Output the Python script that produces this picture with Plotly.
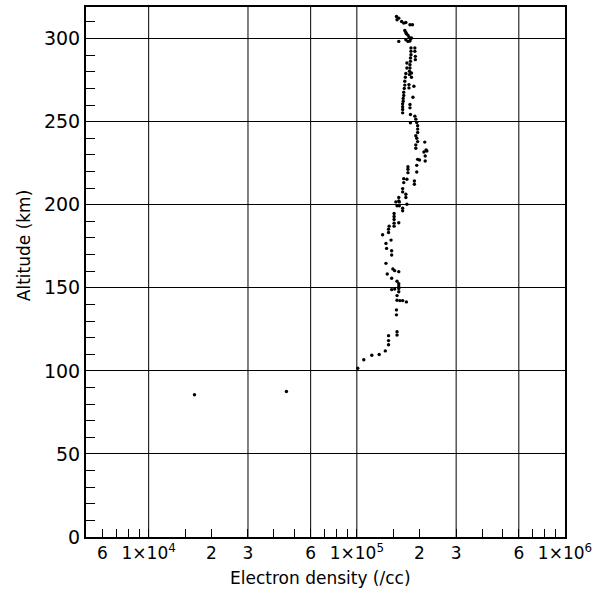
import plotly.graph_objects as go
import math

# ---- data ----
ALTITUDE_KM = [
    85.6, 87.6, 101.6, 106.7, 109.4, 109.8, 112.0, 115.7, 118.2, 121.2, 121.6, 123.6,
    133.7, 136.7, 142.5, 142.3, 142.3, 141.5, 145.3, 147.6, 149.5, 151.0, 152.4, 148.9,
    149.2, 153.9, 155.7, 158.3, 161.3, 160.3, 159.7, 164.7, 169.7, 172.3, 173.7, 176.7,
    178.7, 181.9, 183.3, 185.3, 187.1, 187.1, 188.9, 189.1, 191.1, 192.9, 194.7, 196.3,
    197.9, 199.3, 199.3, 200.3, 201.7, 201.7, 202.3, 204.3, 204.3, 206.3, 207.7, 209.7,
    213.3, 215.7, 215.3, 212.3, 214.3, 219.3, 221.3, 222.9, 219.7, 223.7, 227.3, 226.9,
    229.3, 226.3, 231.7, 232.9, 232.3, 237.7, 234.0, 236.0, 238.0, 240.0, 241.5, 243.5,
    245.5, 247.5, 249.5, 251.5, 253.3, 254.3, 249.3, 258.3, 260.3, 264.7, 270.3, 272.3,
    271.3, 276.7, 279.3,
    255.3, 257.3, 259.0, 260.7, 262.3, 264.0, 265.7, 267.7, 270.0, 272.0, 274.3, 276.7, 279.0,
    278.3, 280.3, 282.3, 284.3, 286.3, 288.3, 290.3, 292.3, 294.3,
    294.3, 292.3, 289.3, 287.3, 285.3, 282.3,
    298.3, 299.3, 298.3, 298.5,
    304.9, 303.7, 302.9, 302.1, 300.9, 299.7, 300.3,
    308.3, 308.3, 309.7, 309.3, 310.3, 312.3, 311.3, 313.3,
]
DENSITY_CC = [
    1.66e4, 4.59e4, 1.01e5, 1.08e5, 1.18e5, 1.28e5, 1.37e5, 1.42e5, 1.42e5, 1.42e5, 1.56e5, 1.56e5,
    1.55e5, 1.55e5, 1.56e5, 1.61e5, 1.66e5, 1.73e5, 1.56e5, 1.59e5, 1.59e5, 1.59e5, 1.59e5, 1.47e5,
    1.52e5, 1.56e5, 1.47e5, 1.40e5, 1.49e5, 1.52e5, 1.59e5, 1.38e5, 1.47e5, 1.47e5, 1.39e5, 1.38e5,
    1.46e5, 1.33e5, 1.42e5, 1.42e5, 1.43e5, 1.51e5, 1.51e5, 1.59e5, 1.51e5, 1.51e5, 1.51e5, 1.66e5,
    1.66e5, 1.56e5, 1.60e5, 1.74e5, 1.54e5, 1.60e5, 1.59e5, 1.59e5, 1.72e5, 1.72e5, 1.66e5, 1.66e5,
    1.68e5, 1.68e5, 1.74e5, 1.89e5, 1.89e5, 1.76e5, 1.76e5, 1.76e5, 1.94e5, 1.94e5, 1.96e5, 2.00e5,
    2.13e5, 2.13e5, 2.10e5, 2.15e5, 2.17e5, 2.12e5, 1.92e5, 1.92e5, 1.96e5, 1.94e5, 1.92e5, 1.96e5,
    1.96e5, 1.96e5, 1.94e5, 1.92e5, 1.90e5, 1.81e5, 1.81e5, 1.80e5, 1.80e5, 1.86e5, 1.78e5, 1.78e5,
    1.88e5, 1.83e5, 1.83e5,
    1.66e5, 1.66e5, 1.66e5, 1.66e5, 1.67e5, 1.67e5, 1.68e5, 1.68e5, 1.69e5, 1.70e5, 1.70e5, 1.71e5, 1.72e5,
    1.79e5, 1.79e5, 1.80e5, 1.80e5, 1.81e5, 1.81e5, 1.82e5, 1.82e5, 1.82e5,
    1.90e5, 1.90e5, 1.91e5, 1.91e5, 1.74e5, 1.74e5,
    1.59e5, 1.72e5, 1.76e5, 1.80e5,
    1.70e5, 1.72e5, 1.73e5, 1.76e5, 1.78e5, 1.81e5, 1.83e5,
    1.80e5, 1.85e5, 1.72e5, 1.68e5, 1.64e5, 1.59e5, 1.56e5, 1.55e5,
]

X_LABEL_VALS = [6e3, 1e4, 2e4, 3e4, 6e4, 1e5, 2e5, 3e5, 6e5, 1e6]
X_LABEL_TEXT = ["6", "1×10<sup>4</sup>", "2", "3", "6",
                "1×10<sup>5</sup>", "2", "3", "6", "1×10<sup>6</sup>"]
X_MINOR_VALS = [7e3, 8e3, 9e3, 1.5e4, 4e4, 5e4, 7e4, 8e4, 9e4,
                1.5e5, 4e5, 5e5, 7e5, 8e5, 9e5]
X_GRID_VALS = [1e4, 3e4, 6e4, 1e5, 3e5, 6e5]
X_RANGE = [5e3, 1e6]
Y_RANGE = [0, 319]

FONT = "DejaVu Sans"

fig = go.Figure()
fig.add_trace(go.Scatter(
    x=DENSITY_CC, y=ALTITUDE_KM, mode="markers",
    marker=dict(color="black", size=3.4, line=dict(width=0)),
    showlegend=False, hoverinfo="skip", cliponaxis=False,
))

# vertical grid lines at the decade / 3x / 6x positions
for gx in X_GRID_VALS:
    fig.add_shape(type="line", xref="x", yref="paper", x0=gx, x1=gx, y0=0, y1=1,
                  line=dict(color="black", width=1), layer="below")

fig.update_layout(
    width=599, height=598,
    margin=dict(l=86, r=34, t=7, b=61, autoexpand=False),
    paper_bgcolor="white", plot_bgcolor="white",
    font=dict(family=FONT, color="black", size=18),
    xaxis=dict(
        type="log", automargin=False,
        range=[math.log10(X_RANGE[0]), math.log10(X_RANGE[1])],
        tickmode="array", tickvals=X_LABEL_VALS, ticktext=X_LABEL_TEXT,
        ticks="inside", ticklen=8, tickwidth=1, tickcolor="black",
        showgrid=False, zeroline=False,
        showline=True, linecolor="black", linewidth=2, mirror=True,
        tickfont=dict(size=17, family=FONT),
        minor=dict(tickmode="array", tickvals=X_MINOR_VALS, ticks="inside",
                   ticklen=8, tickwidth=1, tickcolor="black", showgrid=False),
    ),
    yaxis=dict(
        range=Y_RANGE, tickmode="linear", tick0=0, dtick=50, automargin=False,
        ticks="", showgrid=True, gridcolor="black", gridwidth=1,
        zeroline=False,
        showline=True, linecolor="black", linewidth=2, mirror=True,
        tickfont=dict(size=19, family=FONT),
        minor=dict(dtick=10, ticks="inside", ticklen=9, tickwidth=1,
                   tickcolor="black", showgrid=False),
    ),
    annotations=[
        dict(text="Electron density (/cc)", xref="paper", yref="paper",
             x=0.49, y=-0.077, xanchor="center", yanchor="middle",
             showarrow=False, font=dict(size=17, family=FONT)),
        dict(text="Altitude (km)", xref="paper", yref="paper",
             x=-0.128, y=0.55, xanchor="center", yanchor="middle",
             textangle=-90, showarrow=False, font=dict(size=17, family=FONT)),
    ],
)

fig.write_html(
    "out.html",
    config={"displayModeBar": False, "staticPlot": True},
    post_script="document.body.style.margin='0';document.body.style.overflow='hidden';",
)
